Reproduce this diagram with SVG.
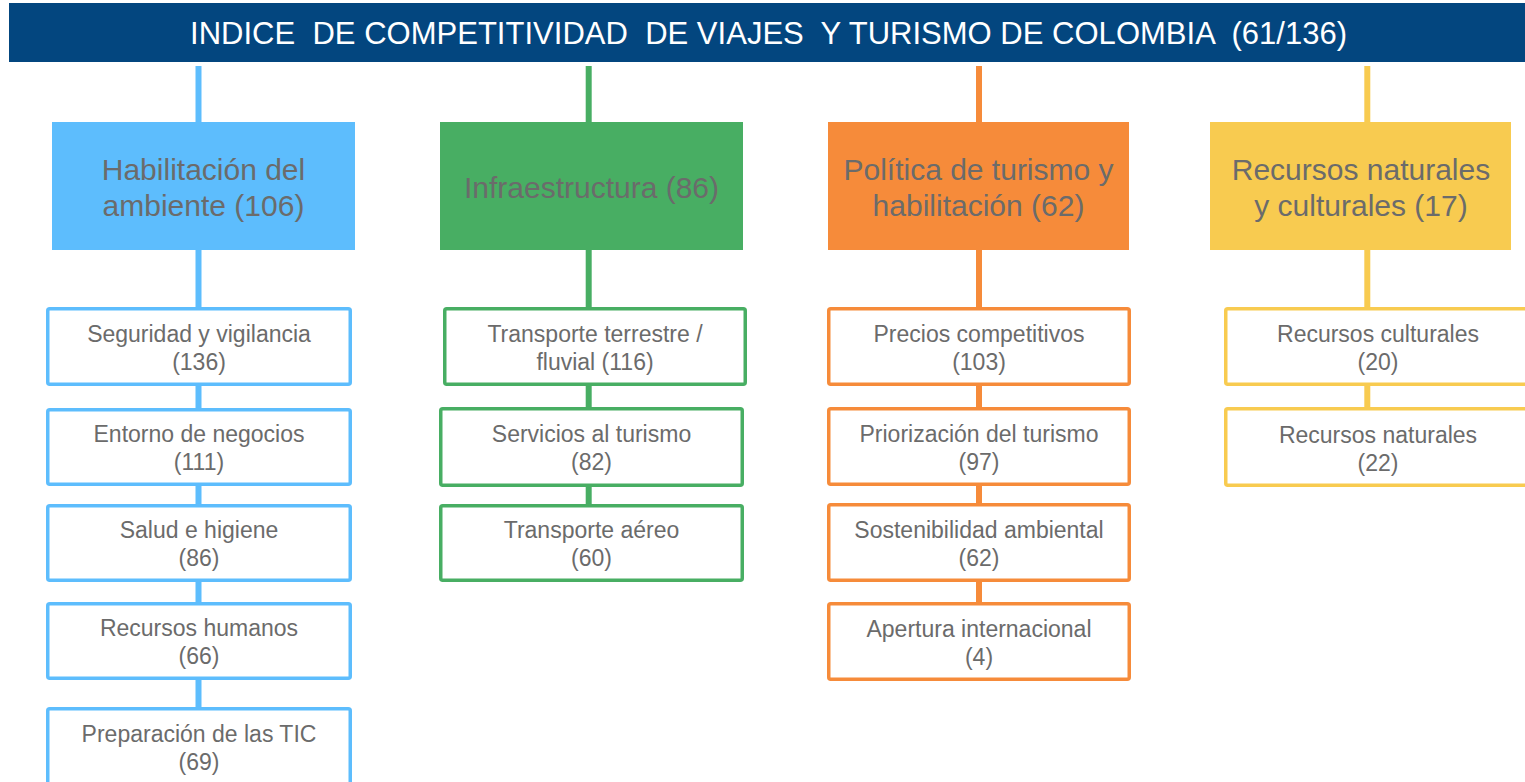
<svg xmlns="http://www.w3.org/2000/svg" width="1525" height="782" viewBox="0 0 1525 782">
<style>
.title{font-family:"Liberation Sans",Arial,sans-serif;font-size:31px;fill:#ffffff;text-anchor:middle;white-space:pre}
.cat{font-family:"Liberation Sans",Arial,sans-serif;font-size:30px;fill:#6b6b6b;text-anchor:middle}
.sub{font-family:"Liberation Sans",Arial,sans-serif;font-size:23px;fill:#6b6b6b;text-anchor:middle}
.box{fill:#ffffff;stroke-width:3.5}
.cb{stroke:#5dbdfd}.cg{stroke:#48ae63}.co{stroke:#f68b3a}.cy{stroke:#f8cb50}
.ln{stroke-width:6;fill:none}
</style>
<rect width="1525" height="782" fill="#ffffff"/>
<g id="title">
<rect x="9" y="3" width="1530" height="59" fill="#03467f"/>
<text class="title" x="768.5" y="44" textLength="1157" lengthAdjust="spacing" xml:space="preserve">INDICE  DE COMPETITIVIDAD  DE VIAJES  Y TURISMO DE COLOMBIA  (61/136)</text>
</g>
<g id="connectors">
<line class="ln cb" x1="198.5" y1="66" x2="198.5" y2="122"/>
<line class="ln cb" x1="198.5" y1="250" x2="198.5" y2="708"/>
<line class="ln cg" x1="588.7" y1="66" x2="588.7" y2="122"/>
<line class="ln cg" x1="588.7" y1="250" x2="588.7" y2="505"/>
<line class="ln co" x1="979" y1="66" x2="979" y2="122"/>
<line class="ln co" x1="979" y1="250" x2="979" y2="603"/>
<line class="ln cy" x1="1367.3" y1="66" x2="1367.3" y2="122"/>
<line class="ln cy" x1="1367.3" y1="250" x2="1367.3" y2="408"/>
</g>
<g id="cat-habilitacion">
<rect x="52" y="122" width="303" height="128" fill="#5dbdfd"/>
<text class="cat" x="203.5" y="180">Habilitación del</text>
<text class="cat" x="203.5" y="216">ambiente (106)</text>
</g>
<g id="cat-infraestructura">
<rect x="440" y="122" width="303" height="128" fill="#48ae63"/>
<text class="cat" x="591.5" y="198">Infraestructura (86)</text>
</g>
<g id="cat-politica">
<rect x="828" y="122" width="301" height="128" fill="#f68b3a"/>
<text class="cat" x="978.5" y="180">Política de turismo y</text>
<text class="cat" x="978.5" y="216">habilitación (62)</text>
</g>
<g id="cat-recursos">
<rect x="1210" y="122" width="301" height="128" fill="#f8cb50"/>
<text class="cat" x="1361" y="180">Recursos naturales</text>
<text class="cat" x="1361" y="216">y culturales (17)</text>
</g>
<g id="b1">
<rect class="box cb" x="47.75" y="308.75" width="302.5" height="75.5" rx="2"/>
<text class="sub" x="199" y="342">Seguridad y vigilancia</text>
<text class="sub" x="199" y="370">(136)</text>
</g>
<g id="b2">
<rect class="box cb" x="47.75" y="409.75" width="302.5" height="74.5" rx="2"/>
<text class="sub" x="199" y="442">Entorno de negocios</text>
<text class="sub" x="199" y="470">(111)</text>
</g>
<g id="b3">
<rect class="box cb" x="47.75" y="505.75" width="302.5" height="74.5" rx="2"/>
<text class="sub" x="199" y="538">Salud e higiene</text>
<text class="sub" x="199" y="566">(86)</text>
</g>
<g id="b4">
<rect class="box cb" x="47.75" y="603.75" width="302.5" height="74.5" rx="2"/>
<text class="sub" x="199" y="636">Recursos humanos</text>
<text class="sub" x="199" y="664">(66)</text>
</g>
<g id="b5">
<rect class="box cb" x="47.75" y="708.75" width="302.5" height="90" rx="2"/>
<text class="sub" x="199" y="742">Preparación de las TIC</text>
<text class="sub" x="199" y="770">(69)</text>
</g>
<g id="g1">
<rect class="box cg" x="444.75" y="308.75" width="300.5" height="75.5" rx="2"/>
<text class="sub" x="595" y="342">Transporte terrestre /</text>
<text class="sub" x="595" y="370">fluvial (116)</text>
</g>
<g id="g2">
<rect class="box cg" x="440.75" y="408.75" width="301.5" height="76.5" rx="2"/>
<text class="sub" x="591.5" y="442">Servicios al turismo</text>
<text class="sub" x="591.5" y="470">(82)</text>
</g>
<g id="g3">
<rect class="box cg" x="440.75" y="505.75" width="301.5" height="74.5" rx="2"/>
<text class="sub" x="591.5" y="538">Transporte aéreo</text>
<text class="sub" x="591.5" y="566">(60)</text>
</g>
<g id="o1">
<rect class="box co" x="828.75" y="308.75" width="300.5" height="75.5" rx="2"/>
<text class="sub" x="979" y="342">Precios competitivos</text>
<text class="sub" x="979" y="370">(103)</text>
</g>
<g id="o2">
<rect class="box co" x="828.75" y="408.75" width="300.5" height="75.5" rx="2"/>
<text class="sub" x="979" y="442">Priorización del turismo</text>
<text class="sub" x="979" y="470">(97)</text>
</g>
<g id="o3">
<rect class="box co" x="828.75" y="504.75" width="300.5" height="75.5" rx="2"/>
<text class="sub" x="979" y="538">Sostenibilidad ambiental</text>
<text class="sub" x="979" y="566">(62)</text>
</g>
<g id="o4">
<rect class="box co" x="828.75" y="603.75" width="300.5" height="75.5" rx="2"/>
<text class="sub" x="979" y="637">Apertura internacional</text>
<text class="sub" x="979" y="665">(4)</text>
</g>
<g id="y1">
<rect class="box cy" x="1225.75" y="308.75" width="302.5" height="75.5" rx="2"/>
<text class="sub" x="1378" y="342">Recursos culturales</text>
<text class="sub" x="1378" y="370">(20)</text>
</g>
<g id="y2">
<rect class="box cy" x="1225.75" y="408.75" width="302.5" height="76.5" rx="2"/>
<text class="sub" x="1378" y="443">Recursos naturales</text>
<text class="sub" x="1378" y="471">(22)</text>
</g>
</svg>
